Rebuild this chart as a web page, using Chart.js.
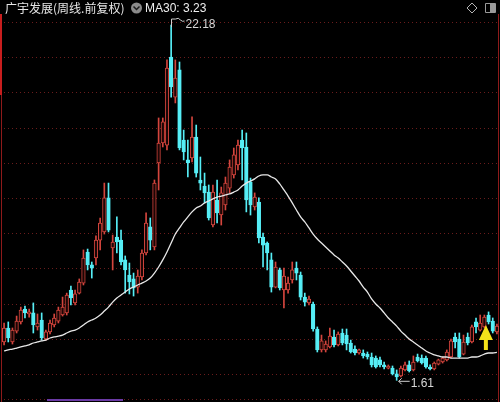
<!DOCTYPE html>
<html>
<head>
<meta charset="utf-8">
<script src="https://cdn.jsdelivr.net/npm/chart.js@4.4.1/dist/chart.umd.min.js"></script>
<style>
  html, body { margin: 0; padding: 0; background: #000; }
  #wrap { width: 500px; height: 402px; position: relative; }
</style>
</head>
<body>
<div id="wrap"><canvas id="c" width="500" height="402"></canvas></div>
<script>
// 广宇发展 weekly bars (forward-adjusted), oldest first
const open = [3.83,4.64,3.83,4.46,4.99,5.74,5.45,5.51,4.70,5.10,
  4.00,4.41,4.81,5.04,5.39,5.51,6.84,6.09,6.66,7.24,
  9.04,8.29,8.69,9.73,10.20,12.17,9.27,9.91,9.73,8.58,
  7.71,7.48,7.01,7.59,8.98,10.49,9.33,14.19,15.35,15.23,
  20.33,18.01,19.58,15.52,14.37,14.48,15.70,13.21,12.86,12.51,
  10.60,12.05,11.18,11.76,12.74,13.50,14.08,15.52,15.12,13.09,
  11.65,11.93,9.91,9.56,8.58,7.01,8.00,6.84,6.84,7.42,
  8.11,7.71,6.43,6.09,6.03,4.58,3.37,3.37,3.54,4.12,
  3.66,4.35,4.23,3.77,3.42,3.19,3.19,3.13,2.96,2.90,
  2.79,2.50,2.32,2.32,1.98,1.86,2.21,2.50,2.21,2.96,
  2.90,2.90,2.38,2.27,2.55,2.67,2.79,2.96,4.12,4.00,
  3.13,4.12,3.83,4.99,4.52,4.70,5.39,5.04,4.41];
const high = [4.93,4.99,4.64,5.33,5.85,5.91,5.74,6.09,5.45,5.51,
  4.52,5.10,5.45,5.85,6.43,6.66,7.07,6.84,7.48,9.16,
  9.21,8.46,9.97,11.01,13.03,13.03,10.02,11.07,10.31,8.81,
  8.40,7.82,8.00,9.16,11.30,11.01,13.21,16.80,16.80,20.16,
  22.18,20.16,20.04,16.10,15.52,16.86,16.39,14.54,13.61,12.92,
  12.92,13.21,12.80,13.38,14.37,15.06,15.52,16.10,15.93,13.32,
  12.46,12.17,10.14,9.62,8.98,8.46,8.11,8.11,7.59,8.46,
  8.46,7.88,6.66,6.49,6.14,4.70,4.23,3.89,4.64,4.52,
  4.41,4.58,4.58,3.94,3.60,3.42,3.37,3.25,3.19,3.02,
  2.96,2.67,2.50,2.44,2.21,2.44,2.67,2.73,3.02,3.13,
  3.08,3.02,2.50,2.67,2.84,2.96,3.37,4.00,4.35,4.35,
  4.23,4.35,4.81,5.22,5.39,5.39,5.57,5.22,4.87];
const low = [3.66,3.83,3.71,4.35,4.87,5.22,5.27,4.35,4.52,3.94,
  3.94,4.29,4.70,4.93,5.33,5.39,5.97,5.97,6.61,7.13,
  8.00,7.53,8.29,9.16,10.08,10.20,8.00,8.98,8.29,6.66,
  6.61,6.49,6.66,7.42,8.87,9.16,9.16,12.63,15.12,14.95,
  18.01,17.67,14.95,14.37,13.38,14.25,13.38,12.63,11.88,10.89,
  10.49,10.72,10.60,11.47,12.46,13.32,13.79,13.21,11.36,11.18,
  11.47,9.56,8.17,8.00,6.72,6.96,6.84,5.80,6.66,7.24,
  7.42,6.26,5.91,5.97,4.46,3.25,3.25,3.25,3.48,3.54,
  3.60,3.66,3.37,3.19,3.08,3.13,2.90,2.84,2.38,2.32,
  2.38,2.27,2.27,1.92,1.61,1.80,2.15,2.09,2.15,2.67,
  2.55,2.32,2.21,2.21,2.50,2.61,2.73,2.90,3.48,2.90,
  3.08,3.66,3.77,4.35,4.46,4.64,4.87,4.35,4.29];
const close = [4.64,4.06,4.52,5.04,5.68,5.51,5.57,4.81,4.93,4.06,
  4.41,4.93,5.22,5.68,5.85,6.55,6.38,6.61,7.30,8.69,
  8.29,8.11,9.73,10.72,12.17,10.31,9.62,9.62,8.46,8.00,
  7.30,6.96,7.65,8.98,10.72,9.73,13.03,15.35,16.57,19.69,
  18.59,19.11,15.06,14.83,14.19,15.70,13.61,13.03,12.46,11.01,
  12.51,11.30,12.46,13.03,13.96,14.66,15.23,15.06,12.05,11.76,
  12.22,9.85,9.44,8.98,7.01,8.17,6.96,7.65,7.24,8.00,
  7.82,6.43,6.14,6.32,4.58,3.37,3.89,3.71,4.17,3.66,
  4.29,3.77,3.71,3.25,3.19,3.37,3.02,2.96,2.50,2.38,
  2.50,2.38,2.44,1.98,1.80,2.32,2.50,2.15,2.67,2.73,
  2.61,2.38,2.27,2.61,2.79,2.90,3.25,3.89,3.83,2.96,
  3.83,3.77,4.70,4.70,4.93,5.27,4.99,4.46,4.75];
const ma30 = [3.31,3.37,3.42,3.48,3.54,3.60,3.66,3.77,3.83,3.89,
  3.94,4.06,4.12,4.17,4.23,4.35,4.46,4.52,4.64,4.81,
  4.99,5.10,5.22,5.39,5.62,5.85,6.14,6.38,6.55,6.72,
  6.90,7.01,7.13,7.24,7.36,7.53,7.82,8.17,8.58,9.04,
  9.56,10.08,10.43,10.78,11.07,11.36,11.59,11.70,11.88,11.99,
  12.11,12.22,12.28,12.34,12.40,12.51,12.63,12.86,13.03,13.15,
  13.27,13.44,13.50,13.50,13.38,13.27,12.98,12.63,12.28,11.88,
  11.47,11.07,10.78,10.43,10.08,9.79,9.56,9.33,9.10,8.87,
  8.69,8.46,8.23,7.94,7.65,7.36,7.01,6.72,6.32,6.03,
  5.80,5.51,5.22,4.99,4.75,4.46,4.23,4.00,3.83,3.66,
  3.48,3.31,3.19,3.08,3.02,2.96,2.96,2.90,2.90,2.90,
  2.90,2.90,2.96,2.96,3.02,3.13,3.19,3.19,3.23];
// horizontal guide levels of the price panel
const gridPrices = [22.36, 20.32, 18.28, 16.24, 14.20, 12.16, 10.12, 8.09, 6.05, 4.01, 1.97];
const weeks = open.map((_, i) => 'W' + (i + 1));

const UP = '#d4453d';
const DOWN = '#56eef6';
const isUp = close.map((c, i) => c >= open[i]);

const frame = {
  id: 'frame',
  beforeDraw(chart) {
    const { ctx, width, height } = chart;
    ctx.save();
    ctx.fillStyle = '#000';
    ctx.fillRect(0, 0, width, height);
    ctx.restore();
  },
  beforeDatasetsDraw(chart) {
    const { ctx, chartArea: a, scales: { y } } = chart;
    ctx.save();
    ctx.strokeStyle = '#6a1c1c';
    ctx.lineWidth = 1;
    ctx.setLineDash([1, 3]);
    const levels = gridPrices.map(v => y.getPixelForValue(v)).concat([a.bottom - 1]);
    for (const p of levels) {
      const py = Math.round(p) + 0.5;
      ctx.beginPath();
      ctx.moveTo(a.left + 2, py);
      ctx.lineTo(a.right - 2, py);
      ctx.stroke();
    }
    ctx.setLineDash([]);
    // panel borders
    ctx.strokeStyle = '#8e1a1a';
    ctx.beginPath();
    ctx.moveTo(1.5, 14); ctx.lineTo(1.5, 402);
    ctx.moveTo(498.5, 14); ctx.lineTo(498.5, 402);
    ctx.stroke();
    ctx.strokeStyle = '#c81e1e';
    ctx.lineWidth = 2;
    ctx.beginPath();
    ctx.moveTo(1, 14); ctx.lineTo(1, 95);
    ctx.stroke();
    // scroll position marker
    ctx.fillStyle = '#6b3aa6';
    ctx.fillRect(47, 399, 76, 2);
    ctx.restore();
  },
  afterDatasetsDraw(chart) {
    const { ctx, scales: { x, y } } = chart;
    ctx.save();
    // highest high marker
    let hi = 0, lo = 0;
    high.forEach((v, i) => { if (v > high[hi]) hi = i; });
    low.forEach((v, i) => { if (v < low[lo]) lo = i; });
    const hx = Math.round(x.getPixelForValue(hi)) + 0.5;
    const hy = y.getPixelForValue(high[hi]);
    ctx.strokeStyle = '#d0d0d0';
    ctx.lineWidth = 1;
    ctx.beginPath();
    ctx.moveTo(hx, hy + 2);
    ctx.lineTo(hx, hy - 6);
    ctx.lineTo(hx + 4, hy - 6);
    ctx.quadraticCurveTo(hx + 7, hy - 8, hx + 9, hy - 5);
    ctx.quadraticCurveTo(hx + 11, hy - 3, hx + 13, hy - 4);
    ctx.stroke();
    ctx.fillStyle = '#d6d6d6';
    ctx.font = '12px "Liberation Sans", Arial, sans-serif';
    ctx.textBaseline = 'middle';
    ctx.fillText(high[hi].toFixed(2), hx + 14, hy);
    // lowest low marker
    const lx = x.getPixelForValue(lo);
    const ly = y.getPixelForValue(low[lo]) + 1;
    ctx.beginPath();
    ctx.moveTo(lx + 2, ly);
    ctx.lineTo(lx + 13, ly);
    ctx.moveTo(lx + 2, ly);
    ctx.lineTo(lx + 5, ly - 3);
    ctx.moveTo(lx + 2, ly);
    ctx.lineTo(lx + 5, ly + 3);
    ctx.stroke();
    ctx.fillText(low[lo].toFixed(2), lx + 14, ly + 2);
    // buy-signal arrow under the latest highs
    const sig = 115;
    const ax = x.getPixelForValue(sig) + 1.5;
    const ay = y.getPixelForValue(low[sig]) - 3;
    ctx.fillStyle = '#f4e21a';
    ctx.beginPath();
    ctx.moveTo(ax, ay);
    ctx.lineTo(ax + 7, ay + 15);
    ctx.lineTo(ax + 2, ay + 15);
    ctx.lineTo(ax + 2, ay + 25);
    ctx.lineTo(ax - 2, ay + 25);
    ctx.lineTo(ax - 2, ay + 15);
    ctx.lineTo(ax - 7, ay + 15);
    ctx.closePath();
    ctx.fill();
    // header
    ctx.fillStyle = '#e6e6e6';
    ctx.font = '12px "Noto Sans CJK SC", sans-serif';
    ctx.textBaseline = 'middle';
    ctx.fillText('广宇发展(周线.前复权)', 5, 8);
    ctx.fillStyle = '#8a8a8a';
    ctx.beginPath();
    ctx.arc(136.5, 8, 5.5, 0, Math.PI * 2);
    ctx.fill();
    ctx.strokeStyle = '#1a1a1a';
    ctx.lineWidth = 1.5;
    ctx.beginPath();
    ctx.moveTo(133.5, 6.5); ctx.lineTo(136.5, 9.5); ctx.lineTo(139.5, 6.5);
    ctx.stroke();
    ctx.fillStyle = '#eeeeee';
    ctx.font = '12px "Liberation Sans", Arial, sans-serif';
    ctx.fillText('MA30: ' + ma30[ma30.length - 1].toFixed(2), 145, 8.5);
    // toolbar icons
    ctx.strokeStyle = '#b4b4b4';
    ctx.lineWidth = 1;
    ctx.beginPath();
    ctx.moveTo(472, 3); ctx.lineTo(477, 8); ctx.lineTo(472, 13); ctx.lineTo(467, 8); ctx.closePath();
    ctx.stroke();
    ctx.strokeStyle = '#9a9a9a';
    ctx.beginPath();
    ctx.rect(485.5, 3.5, 10, 9);
    ctx.stroke();
    ctx.fillStyle = '#9a9a9a';
    ctx.fillRect(490, 4, 5, 8);
    ctx.restore();
  }
};

new Chart(document.getElementById('c'), {
  type: 'bar',
  data: {
    labels: weeks,
    datasets: [
      {
        label: 'MA30',
        type: 'line',
        data: ma30,
        borderColor: '#e8e8e8',
        borderWidth: 1.3,
        pointRadius: 0,
        tension: 0.4,
        cubicInterpolationMode: 'monotone',
        order: 0
      },
      {
        label: 'body',
        data: open.map((o, i) => [o, close[i]]),
        backgroundColor: isUp.map(u => u ? '#1a0605' : DOWN),
        borderColor: isUp.map(u => u ? UP : DOWN),
        borderWidth: 1,
        borderSkipped: false,
        barThickness: 3.6,
        minBarLength: 1,
        grouped: false,
        order: 1
      },
      {
        label: 'wick',
        data: low.map((l, i) => [l, high[i]]),
        backgroundColor: isUp.map(u => u ? UP : DOWN),
        borderWidth: 0,
        barThickness: 1,
        grouped: false,
        order: 2
      }
    ]
  },
  options: {
    responsive: false,
    devicePixelRatio: 1,
    animation: false,
    layout: { padding: { left: 2, right: 1, top: 22, bottom: 2 } },
    plugins: { legend: { display: false }, tooltip: { enabled: false } },
    scales: {
      x: { display: false, offset: true, grid: { display: false } },
      y: { display: false, min: 0.47, max: 22.356 }
    }
  },
  plugins: [frame]
});
</script>
</body>
</html>
